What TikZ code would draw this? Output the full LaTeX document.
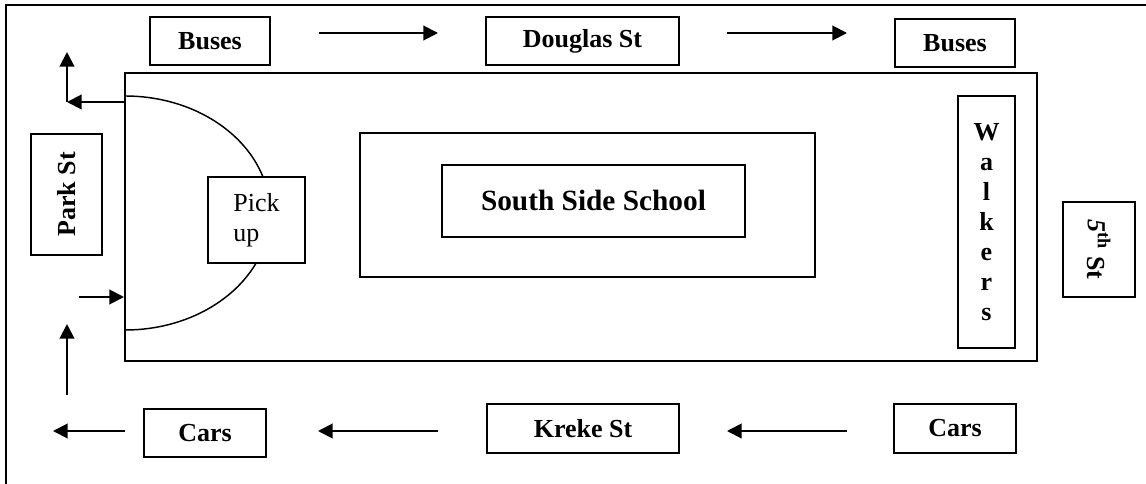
\documentclass[tikz,border=0pt]{standalone}
\usepackage{fontspec}
\setmainfont{Liberation Serif}
\usetikzlibrary{arrows.meta}
\tikzset{
  block/.style={draw, line width=1.5pt, inner sep=0pt},
  sign/.style={block, fill=white, font=\fontsize{19.5}{22.5}\selectfont\bfseries},
  flow/.style={line width=1.5pt, -{Triangle[length=11pt, width=11pt]}}
}
\begin{document}
\begin{tikzpicture}[x=0.75pt, y=-0.75pt]
      \useasboundingbox (0,0) rectangle (1146,484);
      \draw[line width=1.5pt] (6,484) -- (6,5) -- (1146,5);
      \draw
        (581,217) node[block, minimum width=684pt, minimum height=216pt] (campus){}
        (587.5,205) node[block, minimum width=341.25pt, minimum height=108pt] (yard){}
        (593.5,201) node[sign, font=\fontsize{22}{26}\selectfont\bfseries,
          minimum width=227.25pt, minimum height=54pt] (school){South Side School};
      % pick-up loop
      \coordinate (loopTop) at (125,96);
      \draw[line width=1.1pt] (loopTop) arc[start angle=-90, end angle=90, x radius=145, y radius=117];
      \draw
        (256.5,220) node[sign, font=\fontsize{19.5}{22.5}\selectfont, align=left,
          minimum width=72.75pt, minimum height=64.5pt] (pickup){Pick\\up}
        (210,41) node[sign, minimum width=90pt, minimum height=36pt] (busesL){Buses}
        (582.5,41) node[sign, minimum width=144.75pt, minimum height=36pt] (douglas){Douglas St}
        (955,43.5) node[sign, minimum width=90pt, minimum height=36pt] (busesR){Buses}
        (205,433) node[sign, minimum width=91.5pt, minimum height=36pt] (carsL){Cars}
        (583,428.5) node[sign, minimum width=144pt, minimum height=36.75pt] (kreke){Kreke St}
        (955,428.5) node[sign, minimum width=91.5pt, minimum height=36.75pt] (carsR){Cars}
        (66.5,194.5) node[sign, rotate=90, minimum width=90.75pt, minimum height=53.25pt] (park){Park St}
        (1099,249.5) node[sign, rotate=-90, minimum width=71.25pt, minimum height=54pt] (fifth){\textit{5}\textsuperscript{th} St}
        (986.5,222) node[sign, align=center, minimum width=42.75pt, minimum height=189pt] (walkers){W\\a\\l\\k\\e\\r\\s};
      \coordinate (turn) at (67,102);
      \coordinate (exit) at (67,52);
      \coordinate (busA) at (319,33);
      \coordinate (busB) at (438,33);
      \coordinate (busC) at (727,33);
      \coordinate (busD) at (847,33);
      \coordinate (carIn) at (79,297);
      \coordinate (carUpA) at (67,395);
      \coordinate (carUpB) at (67,324);
      \coordinate (carA) at (847,431);
      \coordinate (carB) at (727,431);
      \coordinate (carC) at (438,431);
      \coordinate (carD) at (318,431);
      \coordinate (carE) at (125,431);
      \coordinate (carF) at (53,431);
      \begin{scope}[flow]
        \draw (campus.west |- turn) to (turn);
        \draw (turn) to (exit);
        \draw (busA) to (busB);
        \draw (busC) to (busD);
        \draw (carIn) to (campus.west |- carIn);
        \draw (carUpA) to (carUpB);
        \draw (carA) to (carB);
        \draw (carC) to (carD);
        \draw (carE) to (carF);
      \end{scope}
    \end{tikzpicture}
\end{document}
